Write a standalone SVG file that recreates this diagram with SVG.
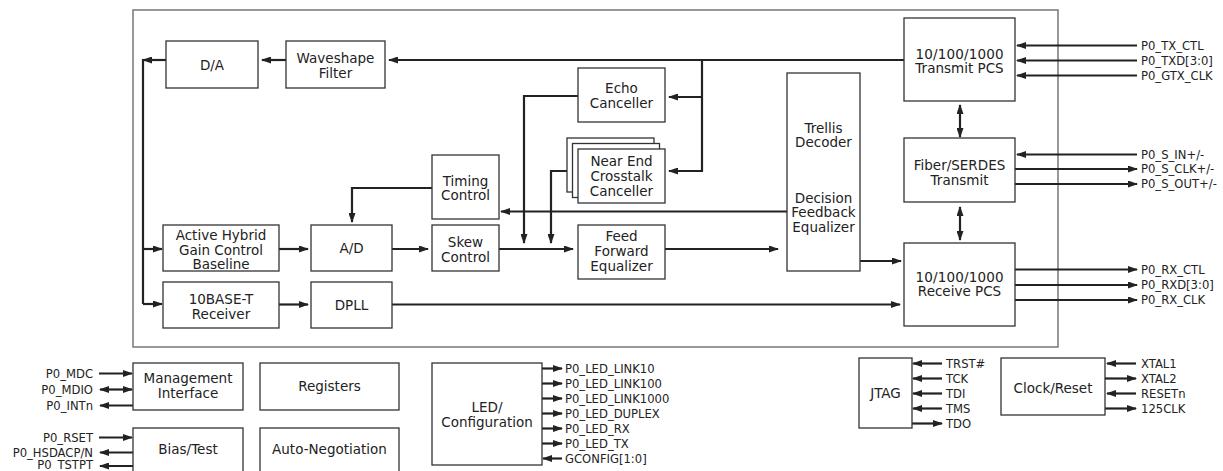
<svg xmlns="http://www.w3.org/2000/svg" width="1223" height="471" viewBox="0 0 1223 471">
<defs>
<marker id="ah" viewBox="0 0 10 7" markerWidth="10" markerHeight="7" refX="9" refY="3.5" orient="auto-start-reverse" markerUnits="userSpaceOnUse">
<path d="M0,0 L10,3.5 L0,7 z" fill="#222"/>
</marker>
<style>
.bx{fill:#fff;stroke:#333;stroke-width:1.3}
.frame{fill:none;stroke:#777;stroke-width:1.5}
text{font-family:"DejaVu Sans","Verdana",sans-serif;fill:#222}
.t{font-size:13.5px;text-anchor:middle}
.l{font-size:11.6px}
.r{font-size:11.6px;text-anchor:end}
.c{fill:none;stroke:#222;stroke-width:2.2}
.cn{fill:none;stroke:#222;stroke-width:1.8}
.a{marker-end:url(#ah)}
.b{marker-start:url(#ah);marker-end:url(#ah)}
</style>
</defs>
<rect width="1223" height="471" fill="#fff"/>
<rect class="frame" x="133" y="10" width="925" height="337"/>

<g id="connectors">
<path class="c a" d="M904,60 H389"/>
<path class="c a" d="M286,60 H262"/>
<path class="c a" d="M166,60 H143"/>
<path class="c" d="M143,59 V304"/>
<path class="c a" d="M143,249 H162"/>
<path class="c a" d="M143,304 H162"/>
<path class="c" d="M702,60 V172"/>
<path class="c a" d="M702,97 H669"/>
<path class="c a" d="M702,171 H669"/>
<path class="c a" d="M578,96 H524 V243"/>
<path class="c a" d="M567,171 H551 V243"/>
<path class="c a" d="M787,211.5 H501"/>
<path class="c a" d="M432,188 H352 V222"/>
<path class="c a" d="M279,249 H308"/>
<path class="c a" d="M392,249 H428"/>
<path class="cn a" d="M499,249 H573"/>
<path class="cn a" d="M665,249 H778"/>
<path class="c a" d="M860,261 H901"/>
<path class="c a" d="M279,304.5 H308"/>
<path class="c a" d="M392,304.5 H900"/>
<path class="c b" d="M960,105 V137"/>
<path class="c b" d="M960,207 V240"/>
<path class="c a" d="M1137,45.5 H1017"/>
<path class="c a" d="M1137,60.5 H1017"/>
<path class="c a" d="M1137,75.5 H1017"/>
<path class="c a" d="M1137,154.5 H1017"/>
<path class="c a" d="M1015,169 H1137"/>
<path class="c a" d="M1015,184 H1137"/>
<path class="c a" d="M1015,269.5 H1137"/>
<path class="c a" d="M1015,285 H1137"/>
<path class="c a" d="M1015,300 H1137"/>
<path class="c a" d="M99,373.5 H132"/>
<path class="c b" d="M100,389.5 H132"/>
<path class="c a" d="M133,405.5 H100"/>
<path class="c a" d="M99,437.5 H132"/>
<path class="c a" d="M133,452.5 H100"/>
<path class="c a" d="M133,466 H100"/>
<path class="c a" d="M542,368.5 H562"/>
<path class="c a" d="M542,383.5 H562"/>
<path class="c a" d="M542,398.5 H562"/>
<path class="c a" d="M542,413.5 H562"/>
<path class="c a" d="M542,428.5 H562"/>
<path class="c a" d="M542,443.5 H562"/>
<path class="c a" d="M562,458.5 H543"/>
<path class="c a" d="M942,363.5 H913"/>
<path class="c a" d="M942,378.5 H913"/>
<path class="c a" d="M942,393.5 H913"/>
<path class="c a" d="M942,408.5 H913"/>
<path class="c a" d="M912,423.5 H942"/>
<path class="c a" d="M1136,363.5 H1107"/>
<path class="c a" d="M1105,378.5 H1136"/>
<path class="c a" d="M1136,393.5 H1107"/>
<path class="c a" d="M1105,408.5 H1136"/>
</g>

<g id="da"><rect class="bx" x="166" y="41" width="92" height="47"/><text class="t" x="212" y="69.5">D/A</text></g>
<g id="waveshape"><rect class="bx" x="286" y="41" width="99" height="47"/><text class="t" x="335.5" y="62.5">Waveshape</text><text class="t" x="335.5" y="77.5">Filter</text></g>
<g id="echo"><rect class="bx" x="578" y="68" width="87" height="54"/><text class="t" x="621.5" y="93">Echo</text><text class="t" x="621.5" y="107.5">Canceller</text></g>
<g id="next"><rect class="bx" x="567" y="138" width="87" height="54"/><rect class="bx" x="572.5" y="143.5" width="87" height="54"/><rect class="bx" x="578" y="149" width="87" height="54"/><text class="t" x="621.5" y="165.5">Near End</text><text class="t" x="621.5" y="180.5">Crosstalk</text><text class="t" x="621.5" y="195.5">Canceller</text></g>
<g id="dfe"><rect class="bx" x="787" y="73" width="73" height="198"/><text class="t" x="823.5" y="132.5">Trellis</text><text class="t" x="823.5" y="147">Decoder</text><text class="t" x="823.5" y="202.5">Decision</text><text class="t" x="823.5" y="217">Feedback</text><text class="t" x="823.5" y="231.5">Equalizer</text></g>
<g id="txpcs"><rect class="bx" x="904" y="18" width="111" height="83"/><text class="t" x="959.5" y="58.5" textLength="88" lengthAdjust="spacing">10/100/1000</text><text class="t" x="959.5" y="73">Transmit PCS</text></g>
<g id="serdes"><rect class="bx" x="904" y="138" width="111" height="64"/><text class="t" x="959.5" y="170">Fiber/SERDES</text><text class="t" x="959.5" y="185">Transmit</text></g>
<g id="rxpcs"><rect class="bx" x="904" y="243" width="111" height="83"/><text class="t" x="959.5" y="281.5" textLength="88" lengthAdjust="spacing">10/100/1000</text><text class="t" x="959.5" y="295.5">Receive PCS</text></g>
<g id="timing"><rect class="bx" x="432" y="155" width="67" height="64"/><text class="t" x="465.5" y="185.5">Timing</text><text class="t" x="465.5" y="200">Control</text></g>
<g id="skew"><rect class="bx" x="432" y="225" width="67" height="46"/><text class="t" x="465.5" y="246.5">Skew</text><text class="t" x="465.5" y="261.5">Control</text></g>
<g id="ad"><rect class="bx" x="311" y="225" width="81" height="46"/><text class="t" x="351.5" y="253">A/D</text></g>
<g id="hybrid"><rect class="bx" x="163" y="225" width="116" height="46"/><text class="t" x="221" y="240">Active Hybrid</text><text class="t" x="221" y="254.5">Gain Control</text><text class="t" x="221" y="268.5">Baseline</text></g>
<g id="ffe"><rect class="bx" x="578" y="225" width="87" height="54"/><text class="t" x="621.5" y="240.5">Feed</text><text class="t" x="621.5" y="255.5">Forward</text><text class="t" x="621.5" y="270.5">Equalizer</text></g>
<g id="rx10"><rect class="bx" x="163" y="282" width="116" height="46"/><text class="t" x="221" y="304">10BASE-T</text><text class="t" x="221" y="319">Receiver</text></g>
<g id="dpll"><rect class="bx" x="311" y="282" width="81" height="46"/><text class="t" x="351.5" y="310">DPLL</text></g>

<g id="mgmt"><rect class="bx" x="133" y="363" width="110" height="47"/><text class="t" x="188" y="382.5">Management</text><text class="t" x="188" y="398">Interface</text></g>
<g id="registers"><rect class="bx" x="260" y="363" width="139" height="47"/><text class="t" x="329.5" y="391">Registers</text></g>
<g id="bias"><rect class="bx" x="133" y="428" width="110" height="50"/><text class="t" x="188" y="454">Bias/Test</text></g>
<g id="autoneg"><rect class="bx" x="260" y="428" width="139" height="50"/><text class="t" x="329.5" y="454">Auto-Negotiation</text></g>
<g id="led"><rect class="bx" x="432" y="363" width="110" height="102"/><text class="t" x="487" y="411.5">LED/</text><text class="t" x="487" y="426.5">Configuration</text></g>
<g id="jtag"><rect class="bx" x="859" y="358" width="53" height="70"/><text class="t" x="885.5" y="398">JTAG</text></g>
<g id="clock"><rect class="bx" x="1001" y="358" width="104" height="57"/><text class="t" x="1053" y="392.5">Clock/Reset</text></g>

<g id="labels">
<text class="l" x="1141" y="49.5">P0_TX_CTL</text>
<text class="l" x="1141" y="64.5">P0_TXD[3:0]</text>
<text class="l" x="1141" y="79.5">P0_GTX_CLK</text>
<text class="l" x="1141" y="158.5">P0_S_IN+/-</text>
<text class="l" x="1141" y="173">P0_S_CLK+/-</text>
<text class="l" x="1141" y="188">P0_S_OUT+/-</text>
<text class="l" x="1141" y="273.5">P0_RX_CTL</text>
<text class="l" x="1141" y="289">P0_RXD[3:0]</text>
<text class="l" x="1141" y="304">P0_RX_CLK</text>
<text class="r" x="93" y="377.5">P0_MDC</text>
<text class="r" x="93" y="393.5">P0_MDIO</text>
<text class="r" x="93" y="409.5">P0_INTn</text>
<text class="r" x="93" y="441.5">P0_RSET</text>
<text class="r" x="93" y="456.5">P0_HSDACP/N</text>
<text class="r" x="93" y="469">P0_TSTPT</text>
<text class="l" x="565" y="372.5">P0_LED_LINK10</text>
<text class="l" x="565" y="387.5">P0_LED_LINK100</text>
<text class="l" x="565" y="402.5">P0_LED_LINK1000</text>
<text class="l" x="565" y="417.5">P0_LED_DUPLEX</text>
<text class="l" x="565" y="432.5">P0_LED_RX</text>
<text class="l" x="565" y="447.5">P0_LED_TX</text>
<text class="l" x="565" y="462.5">GCONFIG[1:0]</text>
<text class="l" x="946" y="367.5">TRST#</text>
<text class="l" x="946" y="382.5">TCK</text>
<text class="l" x="946" y="397.5">TDI</text>
<text class="l" x="946" y="412.5">TMS</text>
<text class="l" x="946" y="427.5">TDO</text>
<text class="l" x="1141" y="367.5">XTAL1</text>
<text class="l" x="1141" y="382.5">XTAL2</text>
<text class="l" x="1141" y="397.5">RESETn</text>
<text class="l" x="1141" y="412.5">125CLK</text>
</g>
</svg>
